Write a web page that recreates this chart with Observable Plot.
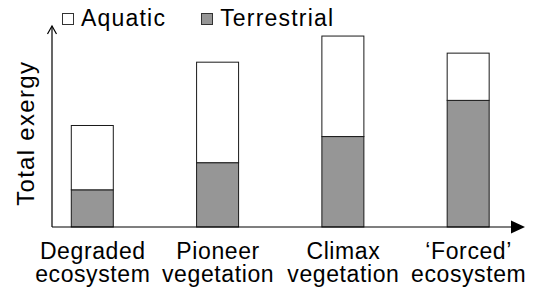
<!DOCTYPE html>
<html><head><meta charset="utf-8">
<script src="https://cdn.jsdelivr.net/npm/d3@7"></script>
<script src="https://cdn.jsdelivr.net/npm/@observablehq/plot@0.6"></script>
<style>
html,body{margin:0;padding:0;background:#fff;}
#wrap{position:relative;width:552px;height:290px;font-family:"Liberation Sans",Arial,sans-serif;}
#legend{position:absolute;left:62px;top:7px;display:flex;align-items:center;font-size:23px;line-height:23px;letter-spacing:1.2px;color:#000;z-index:2;}
.item{display:flex;align-items:center;margin-right:35px;}
.sw{width:10px;height:10px;border:1px solid #333;margin-right:7px;}
</style></head><body><div id="wrap"><div id="legend"></div></div>
<script>
const categories = ["Degraded\necosystem", "Pioneer\nvegetation", "Climax\nvegetation", "‘Forced’\necosystem"];
const terrestrial = [37, 64, 90, 126];
const aquatic = [64, 100, 100, 47];
const seriesNames = ["Aquatic", "Terrestrial"];
const seriesColors = ["#ffffff", "#969696"];
const yLabel = "Total exergy";

const rows = categories.flatMap((c, i) => [
  {cat: c, series: "Terrestrial", value: terrestrial[i]},
  {cat: c, series: "Aquatic", value: aquatic[i]}
]);

function axes(index, scales, values, dim) {
  const x0 = dim.marginLeft, y0 = dim.height - dim.marginBottom;
  const x1 = dim.width - dim.marginRight, yT = dim.marginTop;
  const g = d3.create("svg:g").attr("stroke", "#000").attr("stroke-width", 1.2);
  g.append("line").attr("x1", x0).attr("y1", y0).attr("x2", x0).attr("y2", yT + 0.5);
  g.append("path").attr("fill", "none").attr("d", `M${x0 - 4.5},${yT + 8}L${x0},${yT}L${x0 + 4.5},${yT + 8}`);
  g.append("line").attr("x1", x0).attr("y1", y0).attr("x2", x1 - 12).attr("y2", y0);
  g.append("path").attr("fill", "#000").attr("stroke", "none").attr("d", `M${x1 - 14},${y0 - 6.5}L${x1},${y0}L${x1 - 14},${y0 + 6.5}Z`);
  return g.node();
}

const chart = Plot.plot({
  width: 552,
  height: 290,
  marginLeft: 52,
  marginRight: 27,
  marginTop: 26,
  marginBottom: 63,
  style: {fontFamily: "Liberation Sans, Arial, sans-serif", fontSize: "23px", color: "#000", background: "transparent"},
  x: {type: "band", domain: categories, paddingInner: 0.6648, paddingOuter: 0.22, align: 0.35, round: false, axis: null},
  y: {domain: [0, 200], axis: null},
  color: {domain: seriesNames, range: seriesColors},
  marks: [
    Plot.barY(rows, {x: "cat", y: "value", fill: "series", stroke: "#1a1a1a", strokeWidth: 1}),
    axes,
    Plot.text(categories, {x: d => d, text: d => d, frameAnchor: "bottom", lineAnchor: "top", textAnchor: "middle", dy: 15.5, fontSize: 23, lineHeight: 1.0, fill: "#000"}),
    Plot.text([yLabel], {text: d => d, frameAnchor: "left", textAnchor: "middle", rotate: -90, dx: -26.4, dy: 6.3, fontSize: 24, fill: "#000"})
  ]
});
chart.querySelectorAll("text").forEach(t => { t.style.letterSpacing = (t.textContent === yLabel) ? "1.3px" : "0.6px"; });
document.getElementById("wrap").appendChild(chart);

const legend = document.getElementById("legend");
seriesNames.forEach((name, i) => {
  const item = document.createElement("div");
  item.className = "item";
  const sw = document.createElement("span");
  sw.className = "sw";
  sw.style.background = seriesColors[i];
  const t = document.createElement("span");
  t.textContent = name;
  item.appendChild(sw);
  item.appendChild(t);
  legend.appendChild(item);
});
</script></body></html>
